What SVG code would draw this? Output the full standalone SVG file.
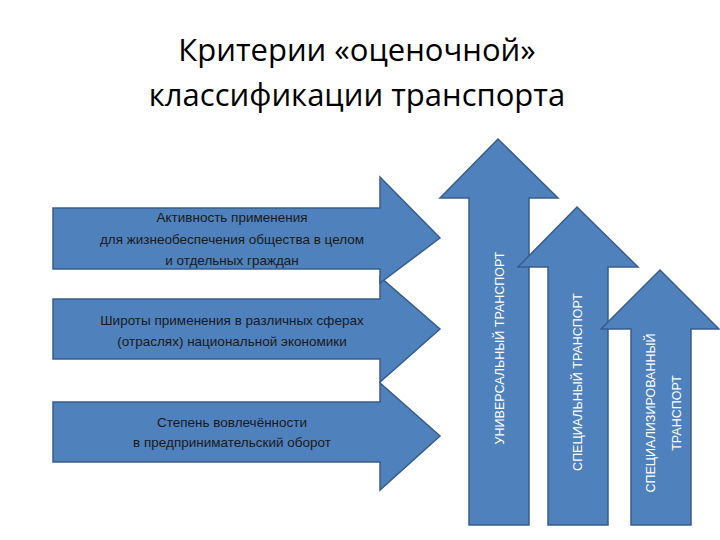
<svg xmlns="http://www.w3.org/2000/svg" width="720" height="540" viewBox="0 0 720 540">
<style>
.a{fill:#4F81BD;stroke:#385D8A;stroke-width:1.5}
.t{font-family:"Liberation Sans","Open Sans",sans-serif;font-size:13.5px;fill:#1a1a1a;text-anchor:middle}
.v{font-family:"Liberation Sans","Open Sans",sans-serif;font-size:12.5px;fill:#fff;text-anchor:middle}
.h{font-family:"Open Sans","Liberation Sans",sans-serif;font-size:31px;fill:#000;text-anchor:middle}
</style>
<rect width="720" height="540" fill="#fff"/>
<g id="title"><text class="h" x="357" y="61">Критерии «оценочной»</text><text class="h" x="357" y="106">классификации транспорта</text></g>
<g id="criterion3"><path class="a" d="M53,402 H380 V383 L440,436 L380,490 V462 H53 Z"/><text class="t" x="232" y="427">Степень вовлечённости</text><text class="t" x="232" y="447">в предпринимательский оборот</text></g>
<g id="criterion2"><path class="a" d="M53,299 H380 V277 L440,329 L380,382 V359 H53 Z"/><text class="t" x="232" y="325">Широты применения в различных сферах</text><text class="t" x="232" y="346">(отраслях) национальной экономики</text></g>
<g id="criterion1"><path class="a" d="M53,208 H380 V177 L440,238 L380,283 V269 H53 Z"/><text class="t" x="232" y="222">Активность применения</text><text class="t" x="232" y="244">для жизнеобеспечения общества в целом</text><text class="t" x="232" y="265">и отдельных граждан</text></g>
<g id="universal"><path class="a" d="M469,525 V198 H440 L498,139 L558,198 H529 V525 Z"/><text class="v" transform="translate(504,348) rotate(-90)">УНИВЕРСАЛЬНЫЙ ТРАНСПОРТ</text></g>
<g id="special"><path class="a" d="M548,525 V267 H518 L577,207 L638,267 H608 V525 Z"/><text class="v" transform="translate(582,382) rotate(-90)">СПЕЦИАЛЬНЫЙ ТРАНСПОРТ</text></g>
<g id="specialized"><path class="a" d="M631,525 V329 H601 L660,270 L719,329 H691 V525 Z"/><text class="v" transform="translate(655,413) rotate(-90)">СПЕЦИАЛИЗИРОВАННЫЙ</text><text class="v" transform="translate(681,413) rotate(-90)">ТРАНСПОРТ</text></g>
<g id="connectors"/>
</svg>
